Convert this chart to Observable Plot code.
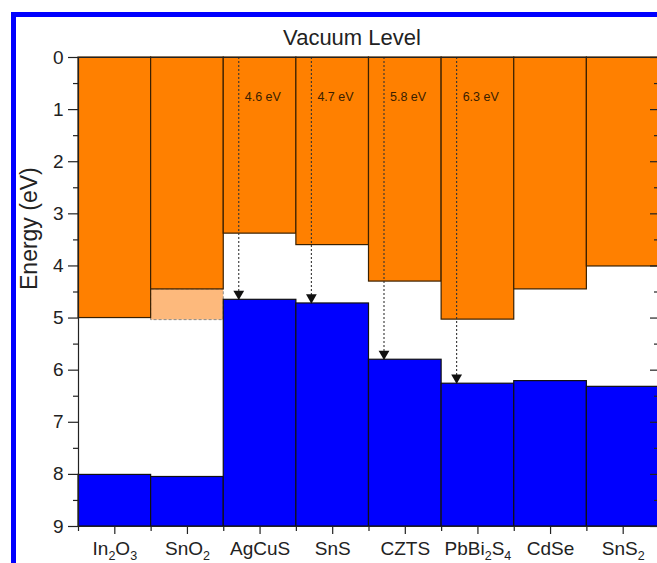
<!DOCTYPE html>
<html><head><meta charset="utf-8">
<script src="https://cdn.jsdelivr.net/npm/d3@7"></script>
<script src="https://cdn.jsdelivr.net/npm/@observablehq/plot@0.6"></script>
<style>
html,body{margin:0;padding:0;background:#fff;overflow:hidden;width:657px;height:563px;}
#border{position:absolute;left:11px;top:12px;width:800px;height:700px;border:5px solid #0000ff;box-sizing:border-box;}
#chart{position:absolute;left:0;top:0;}
</style></head><body>
<div id="border"></div><div id="chart"></div>
<script>
const materials = ["In2O3","SnO2","AgCuS","SnS","CZTS","PbBi2S4","CdSe","SnS2"];
const conductionBand = [5.0, 4.45, 3.38, 3.6, 4.3, 5.03, 4.45, 4.01];
const valenceBand = [8.01, 8.05, 4.65, 4.72, 5.8, 6.26, 6.21, 6.32];
const shadedMaterial = ["SnO2"];
const shadedRange = [4.45, 5.04];
const arrowMaterials = ["AgCuS","SnS","CZTS","PbBi2S4"];
const arrowLabels = ["4.6 eV","4.7 eV","5.8 eV","6.3 eV"];
const yMajorTicks = [0,1,2,3,4,5,6,7,8,9];
const yMinorTicks = [0.5,1.5,2.5,3.5,4.5,5.5,6.5,7.5,8.5];

const bands = materials.map((m,i)=>({i, m, cb: conductionBand[i], vb: valenceBand[i]}));
const shaded = shadedMaterial.map(m=>({i: materials.indexOf(m), y1: shadedRange[0], y2: shadedRange[1]}));
const arrows = arrowMaterials.map((m,k)=>({i: materials.indexOf(m), vb: valenceBand[materials.indexOf(m)], label: arrowLabels[k]}));
const xCenters = materials.map((m,i)=>i+0.5);
const xEdges = d3.range(0, materials.length+1);

const ink = "#222";
const plot = Plot.plot({
  width: 657, height: 563,
  marginLeft: 78, marginRight: 0, marginTop: 57, marginBottom: 37,
  style: {fontFamily: "'Liberation Sans', Arial, sans-serif", background: "transparent", color: ink},
  x: {domain: [0, materials.length], range: [78, 659]},
  y: {domain: [0, 9], reverse: true},
  marks: [
    Plot.rect(shaded, {x1: d=>d.i, x2: d=>d.i+1, y1: "y1", y2: "y2", fill: "#fdb97c", stroke: "#8a8a8a", strokeDasharray: "3,2", strokeWidth: 1}),
    Plot.rect(bands, {x1: d=>d.i, x2: d=>d.i+1, y1: 0, y2: "cb", fill: "#ff8000", stroke: "#3a2000", strokeWidth: 1.2}),
    Plot.rect(bands, {x1: d=>d.i, x2: d=>d.i+1, y1: "vb", y2: 9, fill: "#0000ff", stroke: "#111", strokeWidth: 1.2}),
    Plot.ruleX(arrows, {x: d=>d.i, dx: 15, y1: 0, y2: "vb", stroke: "#333", strokeWidth: 1.1, strokeDasharray: "2,2"}),
    Plot.dot(arrows, {x: d=>d.i, y: "vb", dx: 15, dy: -6, symbol: "triangle", rotate: 180, r: 4, fill: "#111", stroke: null}),
    Plot.text(arrows, {x: d=>d.i, y: 0.75, dx: 21, text: "label", textAnchor: "start", fontSize: 12.5, fill: "#3a2000"}),
    Plot.ruleY([0, 9], {stroke: ink, strokeWidth: 1.2}),
    Plot.ruleX([0], {stroke: ink, strokeWidth: 1.2}),
    Plot.axisY({anchor: "left", ticks: yMajorTicks, tickSize: 10, tickPadding: 5, fontSize: 19, label: null, strokeWidth: 1.2}),
    Plot.axisY({anchor: "left", ticks: yMinorTicks, tickSize: 5, tickFormat: () => "", label: null, strokeWidth: 1.2}),
    Plot.axisY({anchor: "right", ticks: yMajorTicks, tickSize: 10, dx: -8, tickFormat: () => "", label: null, strokeWidth: 1.2}),
    Plot.axisY({anchor: "right", ticks: yMinorTicks, tickSize: 6, dx: -4, tickFormat: () => "", label: null, strokeWidth: 1.2}),
    Plot.axisX({anchor: "bottom", ticks: xCenters, tickSize: 8, tickPadding: 7, tickFormat: v => materials[Math.floor(v)], fontSize: 19, label: null, strokeWidth: 1.2}),
    Plot.axisX({anchor: "bottom", ticks: xEdges, tickSize: 5, tickFormat: () => "", label: null, strokeWidth: 1.2}),
    Plot.text(["Vacuum Level"], {frameAnchor: "top", dx: -16, dy: -28, fontSize: 22, fill: ink}),
    Plot.text(["Energy (eV)"], {frameAnchor: "left", dx: -49, dy: -2, rotate: -90, fontSize: 23, fill: ink})
  ]
});
document.getElementById("chart").appendChild(plot);

// chemical-formula subscripts on x tick labels
plot.querySelectorAll('g[aria-label="x-axis tick label"] text').forEach(t => {
  const s = t.textContent;
  if (!/\d/.test(s)) return;
  t.textContent = "";
  let shifted = false;
  (s.match(/\d+|\D+/g) || []).forEach(p => {
    const ts = document.createElementNS("http://www.w3.org/2000/svg", "tspan");
    ts.textContent = p;
    const isSub = /\d/.test(p);
    if (isSub) { ts.setAttribute("font-size", "12.5"); if (!shifted) { ts.setAttribute("dy", "5"); shifted = true; } }
    else if (shifted) { ts.setAttribute("dy", "-5"); shifted = false; }
    t.appendChild(ts);
  });
});
</script>
</body></html>
